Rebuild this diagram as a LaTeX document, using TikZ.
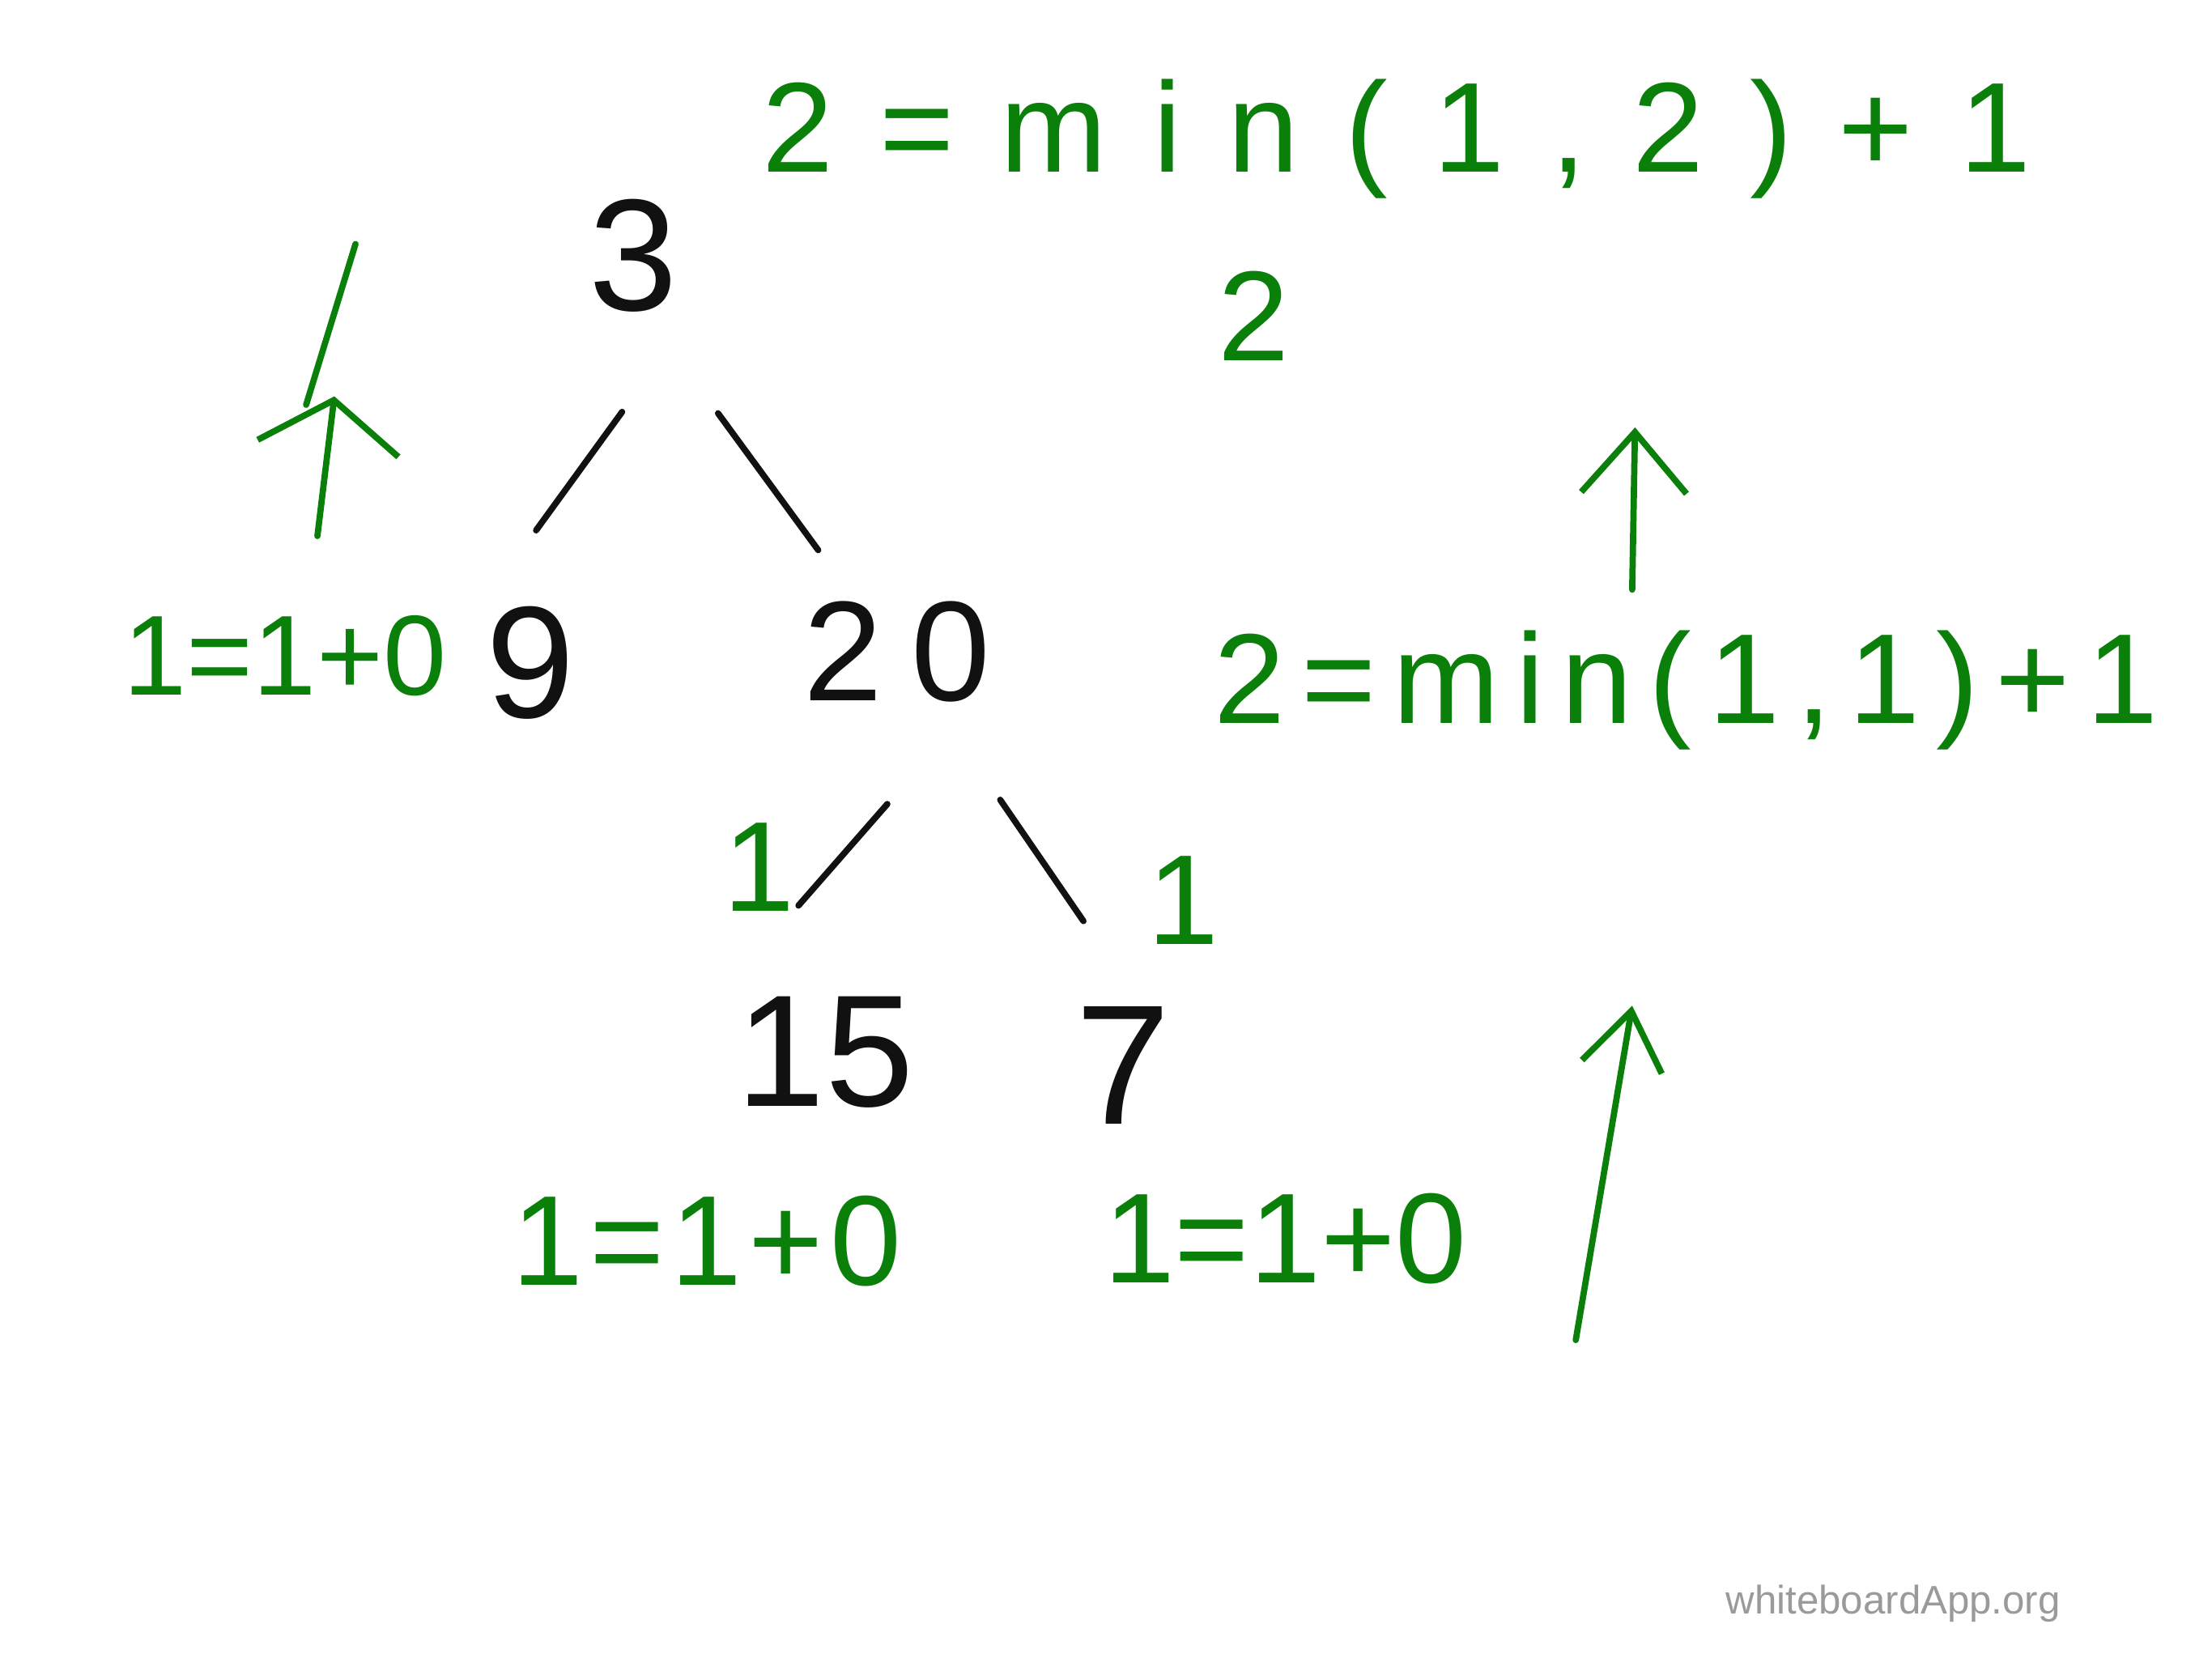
\documentclass[tikz,border=0pt]{standalone}
\usepackage{fontspec}
\setmainfont{Liberation Sans}
\usetikzlibrary{arrows.meta,calc}
\definecolor{Ink}{HTML}{111111}
\definecolor{Marker}{HTML}{0A7F0A}
\definecolor{Stamp}{HTML}{9A9A9A}
\newcommand\spaced[2]{{\addfontfeature{LetterSpace=#1}#2}}

\begin{document}
\begin{tikzpicture}[x=0.017423cm,y=0.017423cm,
  treenum/.style={font=\fontsize{56}{60}\selectfont,text=Ink,inner sep=0pt},
  note/.style={font=\fontsize{45}{50}\selectfont,text=Marker,inner sep=0pt},
  edge/.style={draw=Ink,line width=2.2pt,line cap=round},
  upline/.style={draw=Marker,line width=2.2pt,line cap=round},
  uparrow/.style 2 args={upline,-{Straight Barb[length=#1,width=#2]}}]
\fill[white] (0,-1175) rectangle (1568,0);
\useasboundingbox (0,-1175) rectangle (1568,0);
% the tree
\node[treenum] (n3) at (449,-181) {3};
\node[treenum] (n9) at (376,-470) {9};
\node[treenum,font=\fontsize{50}{54}\selectfont] (n20) at (636,-462) {2\hspace{0.2em}0};
\node[treenum] (n15) at (585,-746) {15};
\node[treenum,font=\fontsize{60}{64}\selectfont] (n7) at (796,-755) {7};
\draw[edge] ($(n3)+(-8,-111)$) -- ($(n9)+(4,94)$);
\draw[edge] ($(n3)+(60,-112)$) -- ($(n20)+(-56,72)$);
\draw[edge] ($(n20)+(-7,-108)$) -- ($(n15)+(-19,104)$);
\draw[edge] ($(n20)+(73,-105)$) -- ($(n7)+(-28,102)$);
% depths in green
\node[note,anchor=base west] (top) at (540,-122) {\spaced{36}{2=min(1,2)+1}};
\node[note] (two) at (889,-224) {2};
\node[note,font=\fontsize{40}{44}\selectfont] (d9) at (202,-465) {1=1+0};
\node[note,anchor=base west] (d20) at (860,-513) {\spaced{13}{2=min(1,1)+1}};
\node[note] (e15) at (538,-615) {1};
\node[note] (e7) at (839,-638) {1};
\node[note] (d15) at (501,-880) {\spaced{5}{1=1+0}};
\node[note] (d7) at (911,-878) {1=1+0};
% arrows going up
\coordinate (a1s) at (225,-380);
\coordinate (a1e) at (237,-281);
\coordinate (a1x) at (217,-287);
\coordinate (a1y) at (252,-173);
\draw[uparrow={0.6cm}{1.75cm}] (a1s) -- (a1e);
\draw[upline] (a1x) -- (a1y);
\coordinate (a2s) at (1157,-418);
\coordinate (a2e) at (1159,-303);
\draw[uparrow={0.75cm}{1.3cm}] (a2s) -- (a2e);
\coordinate (a3s) at (1117,-950);
\coordinate (a3e) at (1157,-713);
\draw[uparrow={0.7cm}{1.0cm}] (a3s) -- (a3e);
\node[font=\fontsize{14}{16}\selectfont,text=Stamp] (brand) at (1342,-1137) {whiteboardApp.org};
\end{tikzpicture}
\end{document}
